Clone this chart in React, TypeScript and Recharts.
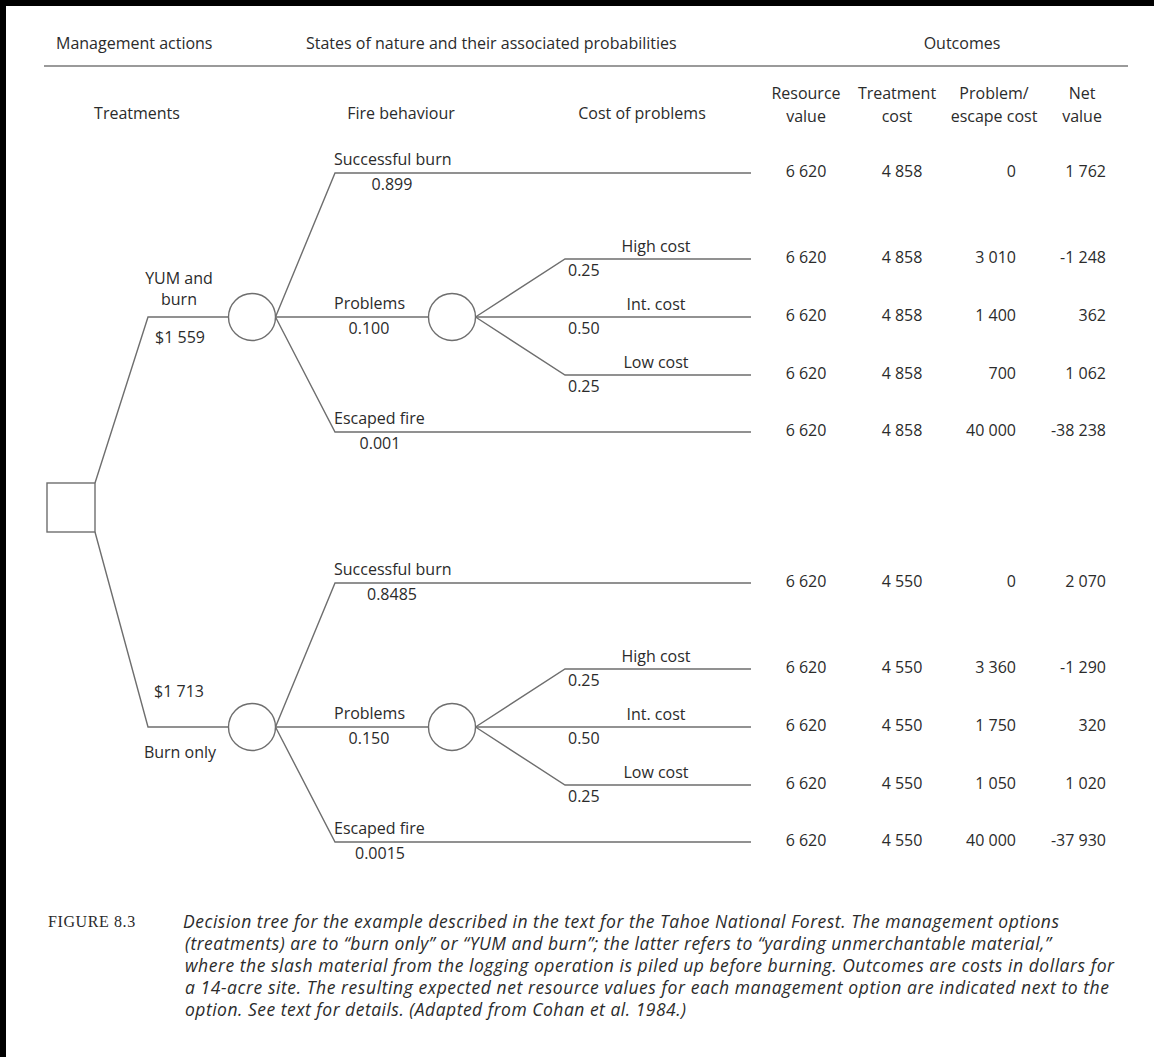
import React from "react";
import { ComposedChart, Line, Scatter, XAxis, YAxis } from "recharts";

const W = 1154;
const H = 1057;
const FONT = "'Open Sans', 'Noto Sans', sans-serif";
const INK = "#2b2b2b";
const WIRE = "#6e6e6e";

// ---- values ----
const topHeaders = ["Management actions", "States of nature and their associated probabilities", "Outcomes"];
const columnHeaders = ["Treatments", "Fire behaviour", "Cost of problems"];
const outcomeHeaders = [
  ["Resource", "value"],
  ["Treatment", "cost"],
  ["Problem/", "escape cost"],
  ["Net", "value"],
];
const treatmentLines = [["YUM and", "burn"], ["Burn only"]];
const expectedValues = ["$1 559", "$1 713"];
const fireStates = ["Successful burn", "Problems", "Escaped fire"];
const fireProbs = [
  ["0.899", "0.100", "0.001"],
  ["0.8485", "0.150", "0.0015"],
];
const costStates = ["High cost", "Int. cost", "Low cost"];
const costProbs = ["0.25", "0.50", "0.25"];

// outcome rows: successful, high, int, low, escaped (YUM and burn, then burn only)
const resourceValue = [6620, 6620, 6620, 6620, 6620, 6620, 6620, 6620, 6620, 6620];
const treatmentCost = [4858, 4858, 4858, 4858, 4858, 4550, 4550, 4550, 4550, 4550];
const problemCost = [0, 3010, 1400, 700, 40000, 0, 3360, 1750, 1050, 40000];
const netValue = [1762, -1248, 362, 1062, -38238, 2070, -1290, 320, 1020, -37930];

const captionTag = "FIGURE 8.3";
const captionLines = [
  "Decision tree for the example described in the text for the Tahoe National Forest. The management options",
  "(treatments) are to \u201cburn only\u201d or \u201cYUM and burn\u201d; the latter refers to \u201cyarding unmerchantable material,\u201d",
  "where the slash material from the logging operation is piled up before burning. Outcomes are costs in dollars for",
  "a 14-acre site. The resulting expected net resource values for each management option are indicated next to the",
  "option. See text for details. (Adapted from Cohan et al. 1984.)",
];

// ---- layout (page units, mapped by the hidden axes) ----
const treeY = [317, 727];
const rootBox = { x1: 47, x2: 95, y1: 483, y2: 532 };
const knee1 = 148;
const chance1 = 252;
const chance2 = 452;
const nodeR = 23.5;
const knee2 = 335;
const knee3 = 565;
const leafEnd = 751;
const stateDy = [-144, 0, 115];
const costDy = [-58, 0, 58];
const rowDy = [-144, -58, 0, 58, 115];
const probCx = [392, 369, 380];
const captionLen = [876, 866, 929, 924, 501];

const fmt = (n: number) => {
  const s = Math.abs(n).toString().replace(/\B(?=(\d{3})+(?!\d))/g, " ");
  return n < 0 ? "-" + s : s;
};

type Pt = { x: number; y: number };
type Lbl = Pt & { label: string; len?: number };

const wires: Pt[][] = [[{ x: 44, y: 66 }, { x: 1128, y: 66 }]];
const chanceNodes: Pt[] = [];
treeY.forEach((Y, t) => {
  const r1 = chance1 + nodeR;
  const r2 = chance2 + nodeR;
  wires.push([{ x: rootBox.x2, y: t === 0 ? rootBox.y1 : rootBox.y2 }, { x: knee1, y: Y }, { x: chance1, y: Y }]);
  wires.push([{ x: r1, y: Y }, { x: knee2, y: Y + stateDy[0] }, { x: leafEnd, y: Y + stateDy[0] }]);
  wires.push([{ x: chance1, y: Y }, { x: leafEnd, y: Y }]);
  wires.push([{ x: r1, y: Y }, { x: knee2, y: Y + stateDy[2] }, { x: leafEnd, y: Y + stateDy[2] }]);
  wires.push([{ x: r2, y: Y }, { x: knee3, y: Y + costDy[0] }, { x: leafEnd, y: Y + costDy[0] }]);
  wires.push([{ x: r2, y: Y }, { x: knee3, y: Y + costDy[2] }, { x: leafEnd, y: Y + costDy[2] }]);
  chanceNodes.push({ x: chance1, y: Y }, { x: chance2, y: Y });
});
const rootNode: Pt[] = [{ x: (rootBox.x1 + rootBox.x2) / 2, y: (rootBox.y1 + rootBox.y2) / 2 }];

const startLabels: Lbl[] = [
  { x: 56, y: 43, label: topHeaders[0] },
  { x: 306, y: 43, label: topHeaders[1] },
];
const midLabels: Lbl[] = [
  { x: 962, y: 43, label: topHeaders[2] },
  { x: 137, y: 113, label: columnHeaders[0] },
  { x: 401, y: 113, label: columnHeaders[1] },
  { x: 642, y: 113, label: columnHeaders[2] },
];
const endLabels: Lbl[] = [];
const outcomeCx = [806, 897, 994, 1082];
outcomeHeaders.forEach((h, i) => {
  midLabels.push({ x: outcomeCx[i], y: 93, label: h[0] }, { x: outcomeCx[i], y: 116, label: h[1] });
});

midLabels.push(
  { x: 179, y: 278, label: treatmentLines[0][0] },
  { x: 179, y: 299, label: treatmentLines[0][1] },
  { x: 180, y: 337, label: expectedValues[0] },
  { x: 179, y: 691, label: expectedValues[1] },
  { x: 180, y: 752, label: treatmentLines[1][0] }
);

treeY.forEach((Y, t) => {
  fireStates.forEach((s, i) => {
    startLabels.push({ x: 334, y: Y + stateDy[i] - 14, label: s });
    midLabels.push({ x: probCx[i], y: Y + stateDy[i] + 11, label: fireProbs[t][i] });
  });
  costStates.forEach((c, i) => {
    midLabels.push({ x: 656, y: Y + costDy[i] - 13, label: c });
    startLabels.push({ x: 568, y: Y + costDy[i] + 11, label: costProbs[i] });
  });
  rowDy.forEach((d, i) => {
    const k = t * rowDy.length + i;
    const y = Y + d - 2;
    midLabels.push({ x: 806, y, label: fmt(resourceValue[k]) });
    midLabels.push({ x: 902, y, label: fmt(treatmentCost[k]) });
    endLabels.push({ x: 1016, y, label: fmt(problemCost[k]) });
    endLabels.push({ x: 1106, y, label: fmt(netValue[k]) });
  });
});

const captionY = [921, 943, 965, 987, 1009];
const captionData: Lbl[] = captionLines.map((l, i) => ({
  x: i === 0 ? 183 : 185,
  y: captionY[i],
  label: l,
  len: captionLen[i],
}));
const captionTagData: Lbl[] = [{ x: 48, y: captionY[0], label: captionTag }];

type TextOpts = { anchor: "start" | "middle" | "end"; size?: number; italic?: boolean; family?: string; spacing?: number };

const textShape = (o: TextOpts) => (props: any) => {
  const { cx, cy, payload } = props;
  return (
    <text
      x={cx}
      y={cy}
      textAnchor={o.anchor}
      dominantBaseline="central"
      fontSize={o.size ?? 16}
      fontFamily={o.family ?? FONT}
      fontStyle={o.italic ? "italic" : "normal"}
      letterSpacing={o.spacing}
      fill={INK}
      textLength={payload.len}
      lengthAdjust={payload.len ? "spacing" : undefined}
    >
      {payload.label}
    </text>
  );
};

const circleShape = (props: any) => (
  <circle cx={props.cx} cy={props.cy} r={nodeR} fill="#fff" stroke={WIRE} strokeWidth={1.4} />
);
const squareShape = (props: any) => {
  const w = rootBox.x2 - rootBox.x1;
  const h = rootBox.y2 - rootBox.y1;
  return <rect x={props.cx - w / 2} y={props.cy - h / 2} width={w} height={h} fill="#fff" stroke={WIRE} strokeWidth={1.4} />;
};

export default function App() {
  return (
    <div style={{ position: "absolute", left: 0, top: 0, width: W, height: H, background: "#fff" }}>
      <ComposedChart width={W} height={H} margin={{ top: 0, right: 0, bottom: 0, left: 0 }}>
        <XAxis dataKey="x" type="number" domain={[0, W]} allowDataOverflow hide />
        <YAxis dataKey="y" type="number" domain={[0, H]} allowDataOverflow reversed hide />
        {wires.map((pts, i) => (
          <Line
            key={`w${i}`}
            data={pts}
            dataKey="y"
            type="linear"
            stroke={i === 0 ? "#9a9a9a" : WIRE}
            strokeWidth={i === 0 ? 2 : 1.4}
            dot={false}
            activeDot={false}
            legendType="none"
            isAnimationActive={false}
          />
        ))}
        <Scatter data={chanceNodes} shape={circleShape} isAnimationActive={false} legendType="none" />
        <Scatter data={rootNode} shape={squareShape} isAnimationActive={false} legendType="none" />
        <Scatter data={startLabels} shape={textShape({ anchor: "start" })} isAnimationActive={false} legendType="none" />
        <Scatter data={midLabels} shape={textShape({ anchor: "middle" })} isAnimationActive={false} legendType="none" />
        <Scatter data={endLabels} shape={textShape({ anchor: "end" })} isAnimationActive={false} legendType="none" />
        <Scatter
          data={captionData}
          shape={textShape({ anchor: "start", size: 17.5, italic: true })}
          isAnimationActive={false}
          legendType="none"
        />
        <Scatter
          data={captionTagData}
          shape={textShape({ anchor: "start", size: 16, family: "'Liberation Serif', 'DejaVu Serif', serif", spacing: 0.6 })}
          isAnimationActive={false}
          legendType="none"
        />
      </ComposedChart>
      <div style={{ position: "absolute", left: 0, top: 0, width: W, height: 6, background: "#000" }} />
      <div style={{ position: "absolute", left: 0, top: 0, width: 6, height: H, background: "#000" }} />
    </div>
  );
}
